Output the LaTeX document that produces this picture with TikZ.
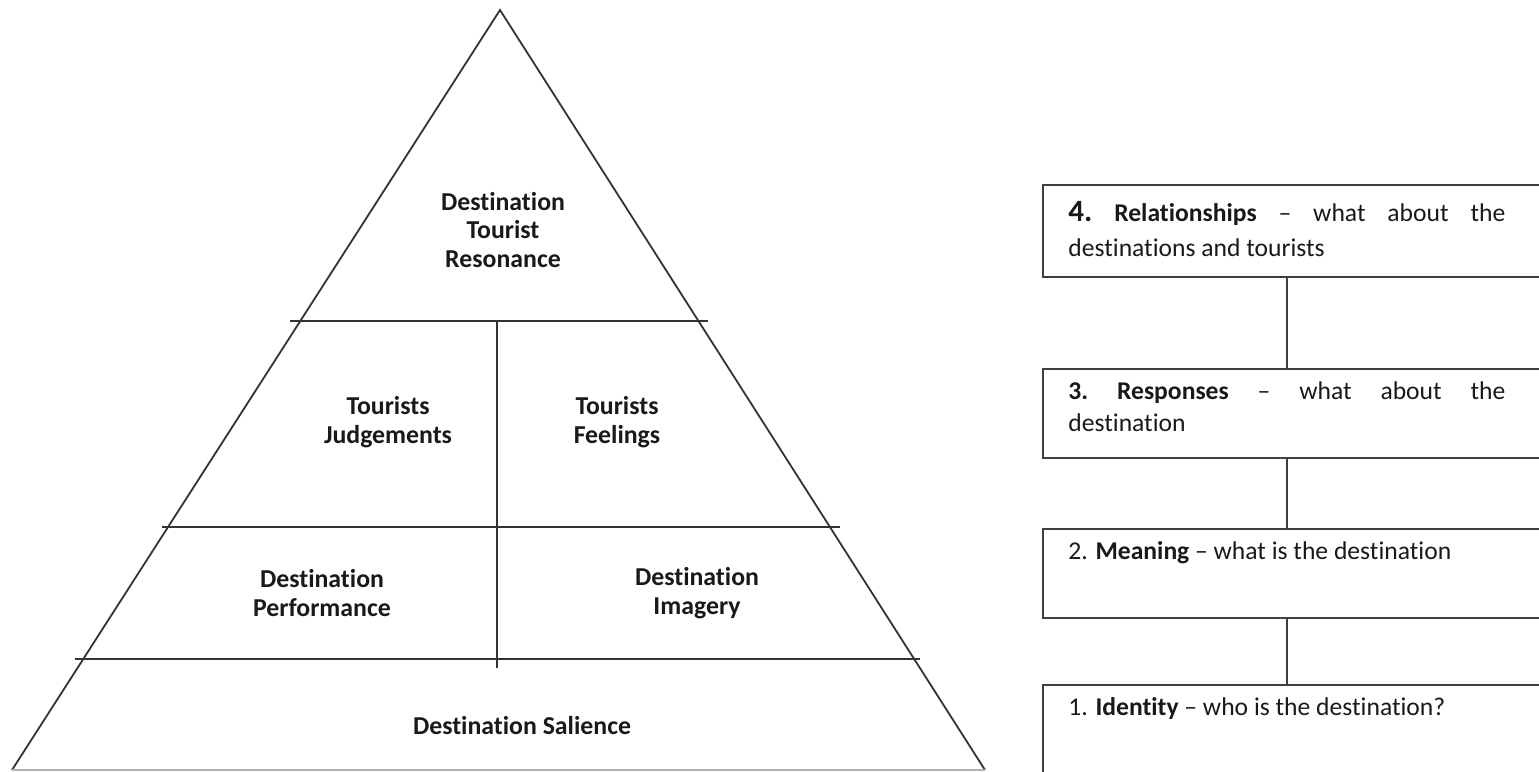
\documentclass[tikz,border=0pt]{standalone}
\usepackage{fontspec}
\setmainfont[Ligatures=NoCommon]{Carlito}
\begin{document}
\begin{tikzpicture}[x=0.5pt,y=-0.5pt,
  edge/.style={line width=0.9pt, draw=black!80},
  boxline/.style={line width=1.1pt, draw=black!75},
  lbl/.style={font=\fontsize{12.9}{14.3}\selectfont\bfseries, align=center, text=black!90, inner sep=0pt},
  btxt/.style={font=\fontsize{12.8}{15}\selectfont, anchor=west, inner sep=0pt, text=black!90},
  box/.style={boxline, rectangle, anchor=north west, inner sep=0pt, minimum width=280pt}
]
\useasboundingbox (0,0) rectangle (1539,772);
\clip (0,0) rectangle (1539,772);
% pyramid
\coordinate (apex) at (500,10);
\coordinate (bl) at (12,770);
\coordinate (br) at (985,770);
\draw[edge] (bl) -- (apex) -- (br);
\draw[edge, draw=black!30] (bl) -- (br);
\coordinate (l1a) at (290,321); \coordinate (l1b) at (708,321);
\coordinate (l2a) at (162,527); \coordinate (l2b) at (840,527);
\coordinate (l3a) at (75,659);  \coordinate (l3b) at (920,659);
\coordinate (va) at (497,321);  \coordinate (vb) at (497,668);
\draw[edge] (l1a) -- (l1b);
\draw[edge] (l2a) -- (l2b);
\draw[edge] (l3a) -- (l3b);
\draw[edge] (va) -- (vb);
\node[lbl] (res) at (503,230) {Destination\\Tourist\\Resonance};
\node[lbl] (judg) at (388,422) {Tourists\\Judgements};
\node[lbl] (feel) at (617,422) {Tourists\\Feelings};
\node[lbl] (perf) at (322,593) {Destination\\Performance};
\node[lbl] (imag) at (697,593) {Destination\\Imagery};
\node[lbl] (sal) at (522,726) {Destination Salience};
% right boxes
\node[box, minimum height=46pt] (b4) at (1042,184) {};
\node[box, minimum height=44.5pt] (b3) at (1042,368) {};
\node[box, minimum height=44.5pt] (b2) at (1042,528) {};
\node[box, minimum height=60pt] (b1) at (1042,684) {};
\coordinate (cx) at (1287,0);
\draw[boxline] (b4.south -| cx) -- (b3.north -| cx);
\draw[boxline] (b3.south -| cx) -- (b2.north -| cx);
\draw[boxline] (b2.south -| cx) -- (b1.north -| cx);
\node[btxt] (t4a) at (1068,213) {\makebox[218.5pt]{\textbf{\fontsize{15.5}{15}\selectfont 4.}\hfill\textbf{Relationships}\hfill--\hfill what\hfill about\hfill the}};
\node[btxt] (t4b) at (1068,248) {destinations and tourists};
\node[btxt] (t3a) at (1068,393) {\makebox[218.5pt]{\textbf{3.}\hfill\textbf{Responses}\hfill--\hfill what\hfill about\hfill the}};
\node[btxt] (t3b) at (1068,423) {destination};
\node[btxt] (t2) at (1068,553) {2. \textbf{Meaning} -- what is the destination};
\node[btxt] (t1) at (1068,709) {1. \textbf{Identity} -- who is the destination?};
\end{tikzpicture}
\end{document}
